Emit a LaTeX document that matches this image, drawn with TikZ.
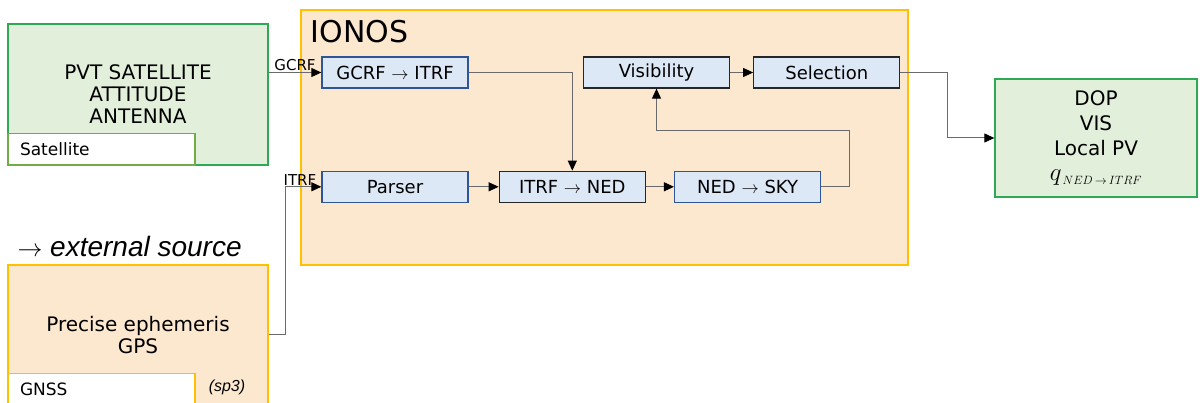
\documentclass[tikz,border=0pt]{standalone}
\usepackage{fontspec}
\setmainfont{DejaVu Sans}
\newfontfamily\arialfont{Liberation Sans}
\usetikzlibrary{positioning, arrows.meta}

\definecolor{boxgreen}{HTML}{E2EFDA}
\definecolor{edgegreen}{HTML}{2EAA55}
\definecolor{lightgreen}{HTML}{70AD47}
\definecolor{boxorange}{HTML}{FCE8CF}
\definecolor{edgeorange}{HTML}{FFC000}
\definecolor{boxblue}{HTML}{DDE8F6}
\definecolor{edgeblue}{HTML}{2F5597}
\definecolor{wire}{HTML}{6A6A6A}

\tikzset{
    block/.style={draw=edgeblue, line width=1.3pt, fill=boxblue, minimum width=146pt, minimum height=31pt, inner sep=0pt, font=\fontsize{18}{20}\selectfont},
    blockdark/.style={block, draw=black!85},
    source/.style={line width=1.3pt, align=center, font=\fontsize{20}{22}\selectfont},
    tag/.style={draw, line width=1.3pt, fill=white, anchor=south west, minimum width=187pt, minimum height=31.5pt, inner xsep=12pt, text width=163pt, align=left, font=\fontsize{17}{17}\selectfont},
    flow/.style={draw=wire, line width=1pt, -{Triangle[color=black, length=10pt, width=9pt]}},
    wirelabel/.style={font=\fontsize{15}{15}\selectfont, inner sep=1pt},
}

\begin{document}
\begin{tikzpicture}[x=1pt, y=-1pt]
        \useasboundingbox (0,0) rectangle (1203,403);
        \clip (0,0) rectangle (1203,403);

        % inputs
        \node[source, fill=boxgreen, draw=edgegreen, minimum width=260pt, minimum height=141pt] (sat) at (138,94.5) {PVT SATELLITE\\ATTITUDE\\ANTENNA};
        \node[tag, draw=lightgreen] (sattag) at (sat.south west) {Satellite};
        \node[font=\arialfont\itshape\fontsize{28}{28}\selectfont, anchor=west] (extlabel) at (14,246) {$\rightarrow$ external source};
        \node[source, fill=boxorange, draw=edgeorange, minimum width=260pt, minimum height=140pt] (eph) at (138,335) {Precise ephemeris\\GPS};
        \node[tag, draw=edgeorange] (ephtag) at (eph.south west) {GNSS};
        \node[font=\arialfont\itshape\fontsize{16}{16}\selectfont] (fmt) at (227,387) {(sp3)};

        % IONOS
        \node[draw=edgeorange, fill=boxorange, line width=1.3pt, minimum width=607pt, minimum height=255pt] (ionos) at (604.5,137.5) {};
        \node[font=\fontsize{30}{30}\selectfont, anchor=north west, xshift=7pt, yshift=-7pt] (title) at (ionos.north west) {IONOS};

        \node[block] (gcrf) at (395,72.5) {GCRF $\rightarrow$ ITRF};
        \node[block, below=82pt of gcrf] (parser) {Parser};
        \node[blockdark, right=30pt of parser] (itrfned) {ITRF $\rightarrow$ NED};
        \node[block, right=28pt of itrfned] (nedsky) {NED $\rightarrow$ SKY};
        \node[blockdark] (vis) at (656.5,72.5) {Visibility};
        \node[blockdark, right=23pt of vis] (sel) {Selection};

        % output
        \node[source, fill=boxgreen, draw=edgegreen, minimum width=202pt, minimum height=118pt, font=\fontsize{20}{25}\selectfont] (out) at (1096,138) {DOP\\VIS\\Local PV\\{\fontsize{24}{25}\selectfont$q_{\scriptscriptstyle\,NED\,\rightarrow\,ITRF}$}};

        \draw[flow] (sat.east |- gcrf.west) -- node[above, wirelabel] {GCRF} (gcrf.west);
        \draw[flow] (eph.east) -- ++(17,0) |- node[above, pos=0.7, wirelabel] {ITRF} (parser.west);
        \draw[flow] (gcrf.east) -| (itrfned.north);
        \draw
        (parser) edge[flow] (itrfned)
        (itrfned) edge[flow] (nedsky)
        (vis) edge[flow] (sel)
        ;
        \draw[flow] (nedsky.east) -- ++(28,0) -- ++(0,-56) -| (vis.south);
        \draw[flow] (sel.east) -- ++(47,0) |- (out.west);
    \end{tikzpicture}
\end{document}
